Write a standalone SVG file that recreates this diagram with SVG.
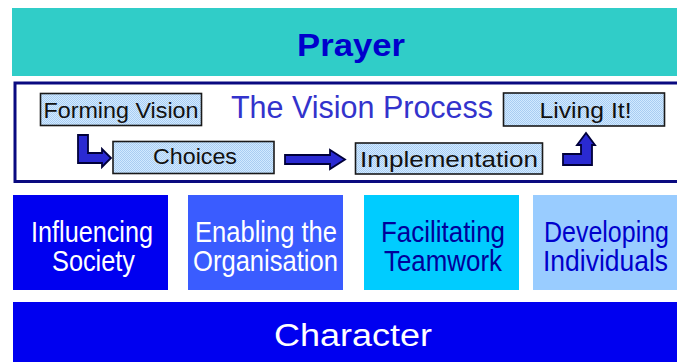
<svg xmlns="http://www.w3.org/2000/svg" width="677" height="362" viewBox="0 0 677 362">
  <defs>
    <pattern id="dots" width="2" height="2" patternUnits="userSpaceOnUse">
      <rect width="2" height="2" fill="#d2eaff"/>
      <rect width="1" height="1" fill="#a9cdf2"/>
      <rect x="1" y="1" width="1" height="1" fill="#a9cdf2"/>
    </pattern>
  </defs>
  <style>
    text { font-family: "Liberation Sans", Arial, sans-serif; }
    .step rect { fill: url(#dots); stroke: #1a1a1a; stroke-width: 1.6; }
    .step text { font-size: 22px; fill: #111; text-anchor: middle; }
    .area text { font-size: 29px; text-anchor: middle; }
    .arrow { fill: #2a2ad2; stroke: #00003a; stroke-width: 1.8; stroke-linejoin: miter; }
  </style>
  <rect width="677" height="362" fill="#ffffff"/>

  <g id="prayer">
    <rect x="12" y="8" width="665" height="68" fill="#30cdc8"/>
    <text x="351" y="56" font-size="31" font-weight="bold" fill="#0000cc" text-anchor="middle" textLength="108" lengthAdjust="spacingAndGlyphs">Prayer</text>
  </g>

  <g id="vision-process">
    <rect x="15" y="83" width="670" height="98.5" fill="#ffffff" stroke="#0a0a80" stroke-width="3"/>
    <text x="231" y="117.5" font-size="31" fill="#3333cc" textLength="262" lengthAdjust="spacingAndGlyphs">The Vision Process</text>
  </g>

  <g id="forming-vision" class="step">
    <rect x="40.5" y="93.5" width="161" height="32"/>
    <text x="121" y="117.5" textLength="155" lengthAdjust="spacingAndGlyphs">Forming Vision</text>
  </g>
  <g id="choices" class="step">
    <rect x="113" y="141.5" width="161" height="32"/>
    <text x="195" y="163.5" textLength="84" lengthAdjust="spacingAndGlyphs">Choices</text>
  </g>
  <g id="implementation" class="step">
    <rect x="355.5" y="143" width="187" height="31"/>
    <text x="449" y="167" textLength="178" lengthAdjust="spacingAndGlyphs">Implementation</text>
  </g>
  <g id="living-it" class="step">
    <rect x="503.5" y="93" width="161" height="33"/>
    <text x="585.5" y="117.5" textLength="92" lengthAdjust="spacingAndGlyphs">Living It!</text>
  </g>

  <g id="connectors">
    <polygon class="arrow" points="78,135 88,135 88,153 102,153 102,149 111,158 102,167 102,163 78,163"/>
    <polygon class="arrow" points="285,155 330,155 330,150 345,159.5 330,169 330,164 285,164"/>
    <polygon class="arrow" points="563,154 581,154 581,145 577,145 586,133 595,145 592,145 592,165 563,165"/>
  </g>

  <g id="influencing-society" class="area">
    <rect x="13" y="195" width="155" height="95" fill="#0000f0"/>
    <text x="92" y="242" fill="#ffffff" textLength="122" lengthAdjust="spacingAndGlyphs">Influencing</text>
    <text x="93.5" y="271" fill="#ffffff" textLength="83" lengthAdjust="spacingAndGlyphs">Society</text>
  </g>
  <g id="enabling-organisation" class="area">
    <rect x="188" y="195" width="155" height="95" fill="#3a5cff"/>
    <text x="266" y="242" fill="#ffffff" textLength="142" lengthAdjust="spacingAndGlyphs">Enabling the</text>
    <text x="265.5" y="271" fill="#ffffff" textLength="145" lengthAdjust="spacingAndGlyphs">Organisation</text>
  </g>
  <g id="facilitating-teamwork" class="area">
    <rect x="364" y="195" width="155" height="95" fill="#00ccff"/>
    <text x="443" y="242" fill="#000099" textLength="124" lengthAdjust="spacingAndGlyphs">Facilitating</text>
    <text x="443" y="271" fill="#000099" textLength="118" lengthAdjust="spacingAndGlyphs">Teamwork</text>
  </g>
  <g id="developing-individuals" class="area">
    <rect x="533" y="195" width="144" height="95" fill="#99ccff"/>
    <text x="606.5" y="242" fill="#0000cc" textLength="125" lengthAdjust="spacingAndGlyphs">Developing</text>
    <text x="605.5" y="271" fill="#0000cc" textLength="125" lengthAdjust="spacingAndGlyphs">Individuals</text>
  </g>

  <g id="character">
    <rect x="13" y="302" width="664" height="60" fill="#0000f0"/>
    <text x="353" y="346" font-size="31" fill="#ffffff" text-anchor="middle" textLength="158" lengthAdjust="spacingAndGlyphs">Character</text>
  </g>
</svg>
